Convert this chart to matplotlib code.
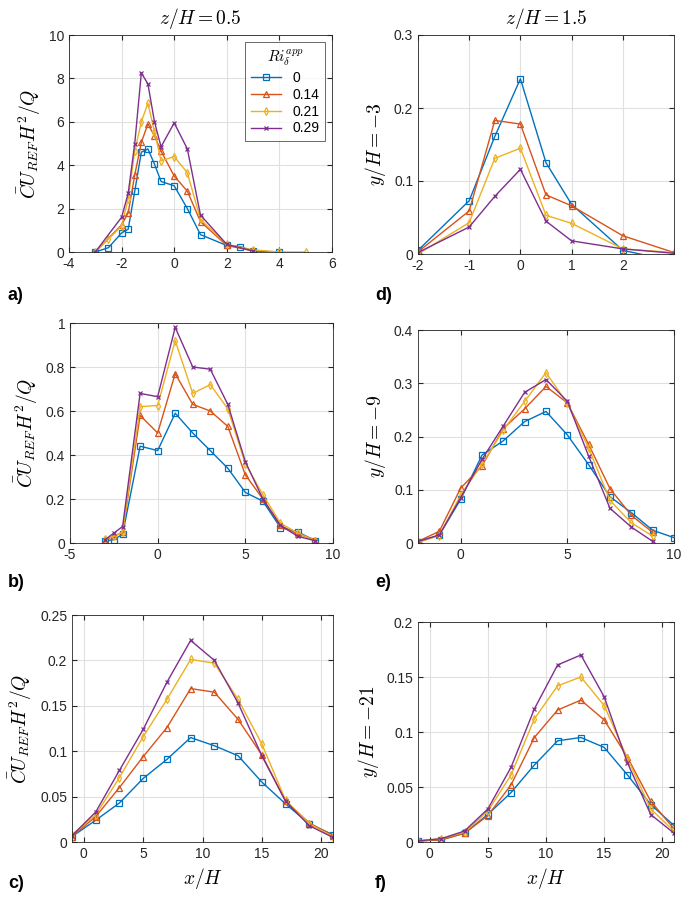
import matplotlib

matplotlib.use("Agg")
import matplotlib.pyplot as plt
from matplotlib.ticker import FormatStrFormatter

plt.rcParams["font.family"] = ["Liberation Sans", "DejaVu Sans"]
plt.rcParams["mathtext.fontset"] = "cm"

ri_labels = ["0", "0.14", "0.21", "0.29"]
colors = ["#0072BD", "#D95319", "#EDB120", "#7E2F8E"]
markers = ["s", "^", "d", "x"]

# a) z/H=0.5, y/H=-3
xa = [[-3, -2.5, -2, -1.75, -1.5, -1.25, -1, -0.75, -0.5, 0, 0.5, 1, 2, 2.5, 3, 4],
      [-3, -2, -1.75, -1.5, -1.25, -1, -0.75, -0.5, 0, 0.5, 1, 2, 3],
      [-3, -2.5, -2, -1.75, -1.5, -1.25, -1, -0.75, -0.5, 0, 0.5, 1, 2, 3, 4, 5],
      [-3, -2, -1.75, -1.5, -1.25, -1, -0.75, -0.5, 0, 0.5, 1, 2, 3]]
ya = [[0, 0.2, 0.88, 1.05, 2.8, 4.6, 4.75, 4.05, 3.25, 3.05, 2.0, 0.8, 0.3, 0.25, 0.05, 0],
      [0, 1.25, 1.8, 3.55, 5.05, 5.9, 5.35, 4.65, 3.5, 2.8, 1.4, 0.3, 0.05],
      [0, 0.6, 1.2, 2.45, 4.65, 6.0, 6.85, 5.55, 4.2, 4.4, 3.65, 1.5, 0.35, 0.1, 0, 0],
      [0, 1.6, 2.7, 5.0, 8.25, 7.75, 6.0, 4.85, 5.95, 4.75, 1.7, 0.35, 0.05]]

# d) z/H=1.5, y/H=-3
xd = [-2, -1, -0.5, 0, 0.5, 1, 2, 3]
yd = [[0.005, 0.073, 0.161, 0.24, 0.125, 0.068, 0.005, -0.01],
      [0.003, 0.059, 0.183, 0.178, 0.081, 0.066, 0.025, 0.002],
      [0.0, 0.043, 0.131, 0.145, 0.053, 0.042, 0.007, 0.002],
      [0.002, 0.037, 0.079, 0.116, 0.045, 0.018, 0.007, 0.001]]

# b) z/H=0.5, y/H=-9
xb = [-3, -2.5, -2, -1, 0, 1, 2, 3, 4, 5, 6, 7, 8, 9]
yb = [[0.01, 0.015, 0.04, 0.44, 0.42, 0.59, 0.5, 0.42, 0.34, 0.23, 0.19, 0.07, 0.05, 0.01],
      [0.015, 0.03, 0.05, 0.58, 0.5, 0.77, 0.63, 0.6, 0.53, 0.31, 0.2, 0.08, 0.04, 0.015],
      [0.02, 0.03, 0.05, 0.62, 0.625, 0.92, 0.68, 0.72, 0.61, 0.36, 0.22, 0.09, 0.045, 0.01],
      [0.015, 0.045, 0.075, 0.68, 0.665, 0.98, 0.8, 0.79, 0.63, 0.37, 0.2, 0.08, 0.03, 0.01]]

# e) z/H=1.5, y/H=-9
xe = [[-2, -1, 0, 1, 2, 3, 4, 5, 6, 7, 8, 9, 10]] + [[-2, -1, 0, 1, 2, 3, 4, 5, 6, 7, 8, 9]] * 3
ye = [[0.002, 0.015, 0.082, 0.165, 0.192, 0.228, 0.247, 0.203, 0.147, 0.087, 0.057, 0.024, 0.01],
      [0.003, 0.022, 0.103, 0.145, 0.215, 0.252, 0.294, 0.263, 0.185, 0.102, 0.052, 0.02],
      [0.001, 0.014, 0.09, 0.148, 0.212, 0.266, 0.32, 0.262, 0.178, 0.08, 0.038, 0.013],
      [0.003, 0.015, 0.085, 0.157, 0.22, 0.283, 0.307, 0.266, 0.163, 0.065, 0.03, 0.003]]

# c), f) y/H=-21
xcf = [-1, 1, 3, 5, 7, 9, 11, 13, 15, 17, 19, 21]
yc = [[0.006, 0.024, 0.043, 0.07, 0.091, 0.115, 0.106, 0.095, 0.066, 0.042, 0.02, 0.008],
      [0.006, 0.028, 0.06, 0.094, 0.126, 0.169, 0.165, 0.135, 0.096, 0.045, 0.021, 0.007],
      [0.008, 0.03, 0.071, 0.116, 0.157, 0.201, 0.197, 0.157, 0.108, 0.046, 0.02, 0.006],
      [0.007, 0.033, 0.079, 0.124, 0.176, 0.222, 0.2, 0.153, 0.095, 0.045, 0.018, 0.005]]
yf = [[0.001, 0.002, 0.008, 0.025, 0.045, 0.07, 0.092, 0.095, 0.086, 0.061, 0.034, 0.015],
      [0.001, 0.002, 0.008, 0.024, 0.052, 0.095, 0.12, 0.129, 0.111, 0.077, 0.037, 0.012],
      [0.001, 0.003, 0.009, 0.028, 0.061, 0.112, 0.142, 0.15, 0.124, 0.076, 0.03, 0.01],
      [0.001, 0.003, 0.01, 0.03, 0.068, 0.121, 0.161, 0.17, 0.132, 0.072, 0.025, 0.008]]

W, H = 688, 913
fig = plt.figure(figsize=(W / 100, H / 100), dpi=100)


def make_ax(l, r, t, b):
    return fig.add_axes([l / W, 1 - b / H, (r - l) / W, (b - t) / H])


axa = make_ax(69, 332, 35, 252)
axd = make_ax(418, 674, 35, 254)
axb = make_ax(70, 333, 323, 543)
axe = make_ax(418, 674, 330, 543)
axc = make_ax(72, 333, 615, 842)
axf = make_ax(418, 674, 622, 842)


def draw(ax, xs, ys):
    for i in range(4):
        x = xs[i] if isinstance(xs[0], list) else xs
        ax.plot(x, ys[i], color=colors[i], marker=markers[i], ms=4 if i < 3 else 3,
                mfc="none", lw=1, mew=0.9, label=ri_labels[i], clip_on=True)
    ax.grid(True, color="#e0e0e0", lw=0.8)
    ax.set_axisbelow(True)
    ax.tick_params(direction="in", labelsize=10, colors="#262626", top=True, right=True)
    ax.xaxis.set_major_formatter(FormatStrFormatter("%g"))
    ax.yaxis.set_major_formatter(FormatStrFormatter("%g"))
    for s in ax.spines.values():
        s.set_color("#262626")
        s.set_linewidth(0.6)


draw(axa, xa, ya)
axa.set_xlim(-4, 6)
axa.set_ylim(0, 10)
axa.set_xticks([-4, -2, 0, 2, 4, 6])
leg = axa.legend(title=r"$Ri_\delta^{app}$", loc="upper right", fancybox=False,
                 edgecolor="#262626", fontsize=10, handlelength=2.2, borderpad=0.4,
                 labelspacing=0.2)
leg.get_frame().set_linewidth(0.6)
leg.get_title().set_fontsize(11)

draw(axd, [xd] * 4, yd)
axd.set_xlim(-2, 3)
axd.set_ylim(0, 0.3)
axd.set_xticks([-2, -1, 0, 1, 2])
axd.set_yticks([0, 0.1, 0.2, 0.3])

draw(axb, [xb] * 4, yb)
axb.set_xlim(-5, 10)
axb.set_ylim(0, 1)
axb.set_xticks([-5, 0, 5, 10])

draw(axe, xe, ye)
axe.set_xlim(-2, 10)
axe.set_ylim(0, 0.4)
axe.set_xticks([0, 5, 10])
axe.set_yticks([0, 0.1, 0.2, 0.3, 0.4])

draw(axc, [xcf] * 4, yc)
axc.set_xlim(-1, 21)
axc.set_ylim(0, 0.25)
axc.set_xticks([0, 5, 10, 15, 20])

draw(axf, [xcf] * 4, yf)
axf.set_xlim(-1, 21)
axf.set_ylim(0, 0.2)
axf.set_xticks([0, 5, 10, 15, 20])

ylab = r"$\bar{C}U_{REF}H^2/Q$"
for ax in (axa, axb, axc):
    ax.set_ylabel(ylab, fontsize=14)
for ax, t in ((axd, "3"), (axe, "9"), (axf, "21")):
    ax.set_ylabel(r"$y/H=-%s$" % t, fontsize=14)
for ax in (axc, axf):
    ax.set_xlabel(r"$x/H$", fontsize=14)
axa.set_title(r"$z/H=0.5$", fontsize=14, pad=8)
axd.set_title(r"$z/H=1.5$", fontsize=14, pad=8)

for lab, (px, py) in zip(["a)", "b)", "c)", "d)", "e)", "f)"],
                         [(8, 296), (8, 582), (8, 883), (375, 296), (375, 582), (375, 883)]):
    fig.text(px / W, 1 - py / H, lab, fontsize=13, fontweight="bold", va="center")

fig.savefig("out.png", dpi=100)
